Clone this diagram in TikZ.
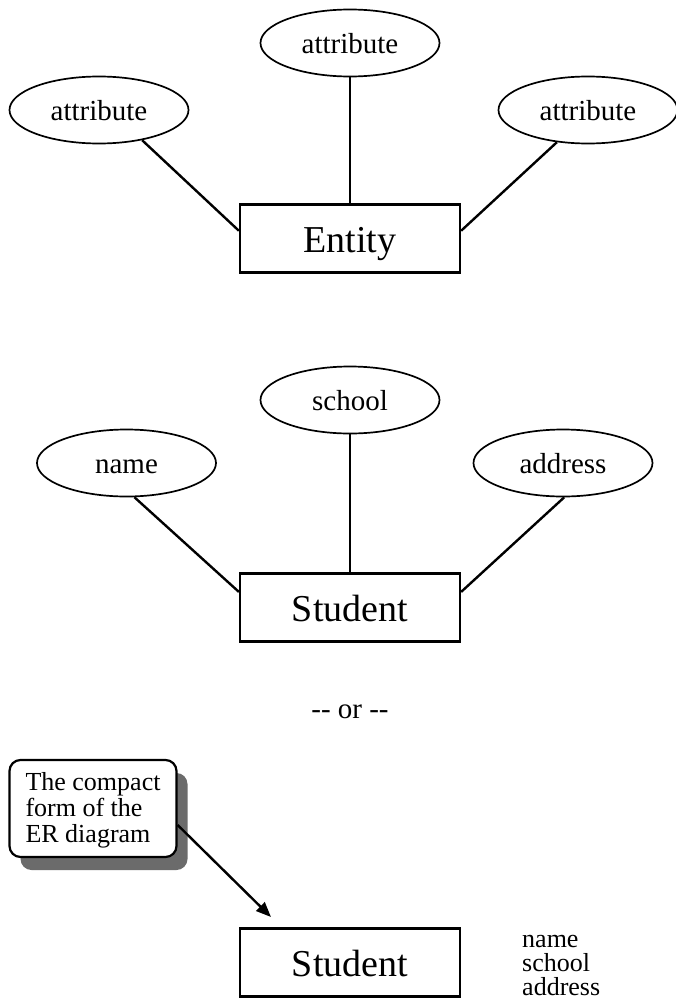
\documentclass[tikz,border=0pt]{standalone}
\usepackage{fontspec}
\setmainfont{Liberation Serif}
\usetikzlibrary{shapes.geometric,shadows,arrows.meta}
\begin{document}
\begin{tikzpicture}[x=1pt,y=-1pt,
  attr/.style={ellipse,draw,line width=1.7pt,minimum width=179pt,minimum height=67pt,inner sep=0pt,
    text height=20pt,text depth=0pt,font=\fontsize{29}{34}\selectfont},
  entbox/.style={rectangle,draw,line width=2.3pt,minimum width=220pt,minimum height=68pt,inner sep=0pt,
    text height=27pt,text depth=0pt,font=\fontsize{38}{44}\selectfont},
  link/.style={line width=2.4pt},
  note/.style={rectangle,rounded corners=11pt,draw,line width=2.2pt,fill=white,
    minimum width=167pt,minimum height=97pt,inner sep=0pt,
    font=\fontsize{26}{26}\selectfont,
    drop shadow={shadow xshift=11pt,shadow yshift=-13pt,fill=black!58,opacity=1}},
  plain/.style={inner sep=0pt}]
\useasboundingbox (0,0) rectangle (675,1001);

% generic entity with three attributes
\node[attr] (gtop) at (350,43) {attribute};
\node[attr] (gleft) at (99,110) {attribute};
\node[attr] (gright) at (588,110) {attribute};
\node[entbox] (entity) at (350,238.5) {Entity};
\draw[link] (gtop.south) -- (entity.north);
\draw[link] (gleft.-35) -- (entity.176);
\draw[link] (gright.226) -- (entity.4);

% concrete example: Student
\node[attr] (school) at (350,400) {school};
\node[attr] (name) at (126.5,463) {name};
\node[attr] (address) at (563,463) {address};
\node[entbox] (student) at (350,607.5) {Student};
\draw[link] (school.south) -- (student.north);
\draw[link] (name.-77) -- (student.172);
\draw[link] (address.-88) -- (student.8);

\node[plain,font=\fontsize{29}{34}\selectfont] (or) at (350,712) {-{}- or -{}-};

% compact form
\node[note] (callout) at (93,808.5)
  {\raisebox{-3pt}[\height][\depth]{\begin{tabular}{@{}l@{}}The compact\\form of the\\ER diagram\end{tabular}}};
\node[entbox] (compact) at (350,962.5) {Student};
\coordinate (tip) at (271,917);
\draw[link,-{Triangle[length=15pt,width=12pt]}] (callout.-11) -- (tip);
\node[plain,anchor=west,align=left,font=\fontsize{26}{24}\selectfont] (attrs) at (522,965) {name\\school\\address};
\end{tikzpicture}
\end{document}
